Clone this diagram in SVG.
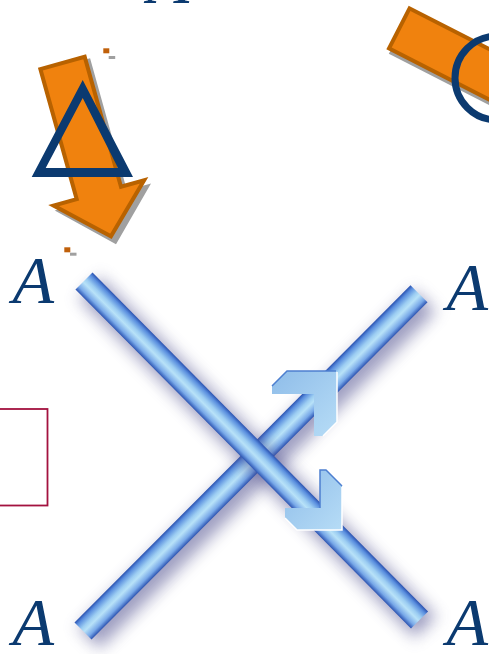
<svg xmlns="http://www.w3.org/2000/svg" width="489" height="654" viewBox="0 0 489 654">
<defs>
<style>
.lbl{font-family:"Liberation Serif","DejaVu Serif",serif;font-style:italic;font-size:68px;fill:#0b3a70}
.org{fill:#f0820e;stroke:#b86200;stroke-width:4;stroke-linejoin:miter}
.shd{fill:#a0a0a0}
.pipe{fill:url(#pipeGrad)}
.halo{fill:#50508e;opacity:0.55;filter:url(#blur)}
.chev{fill:url(#chevGrad)}
</style>
<linearGradient id="pipeGrad" x1="0" y1="0" x2="0" y2="1">
<stop offset="0" stop-color="#2a52b0"/>
<stop offset="0.14" stop-color="#5a8ede"/>
<stop offset="0.38" stop-color="#9ccdf2"/>
<stop offset="0.55" stop-color="#b8e2f8"/>
<stop offset="0.82" stop-color="#78a8e8"/>
<stop offset="1" stop-color="#2c54b2"/>
</linearGradient>
<linearGradient id="chevGrad" x1="0" y1="0" x2="1" y2="1">
<stop offset="0" stop-color="#8fbde9"/>
<stop offset="1" stop-color="#b6dcf6"/>
</linearGradient>
<filter id="blur" x="-30%" y="-60%" width="160%" height="220%">
<feGaussianBlur stdDeviation="8"/>
</filter>
</defs>

<g id="label-top"><text class="lbl" x="147.5" y="3">A</text></g>

<g id="arrow-down">
<g transform="translate(66,65) rotate(-15.6)">
<polygon class="shd" points="-25,0 25,0 25,137 50,137 0,186 -50,137 -25,137"/>
</g>
<g transform="translate(62,61) rotate(-15.6)">
<polygon class="org" points="-23,2 23,2 23,137 47,137 0,182 -47,137 -23,137"/>
</g>
</g>

<g id="triangle">
<path fill="#0b3a70" fill-rule="evenodd" d="M82.7,80 L31.7,177 L133,177 Z M82.7,98 L45.7,168 L118,168 Z"/>
</g>

<g id="marks">
<rect x="103.3" y="48.3" width="6" height="5" fill="#c0600a"/>
<rect x="108.7" y="56" width="6.5" height="3" fill="#a0a0a0"/>
<rect x="64.3" y="247.3" width="6" height="5" fill="#c0600a"/>
<rect x="70" y="252.7" width="6.5" height="3" fill="#a0a0a0"/>
</g>

<g id="bar-right">
<g transform="translate(400,32) rotate(27.1)">
<rect class="shd" x="0" y="-24.5" width="200" height="49"/>
</g>
<g transform="translate(397.5,27.5) rotate(27.1)">
<rect class="org" x="2" y="-22.5" width="200" height="45"/>
</g>
</g>

<g id="circle">
<circle cx="497" cy="78" r="42" fill="none" stroke="#0b3a70" stroke-width="7"/>
</g>

<g id="box">
<rect x="-10" y="409" width="57.5" height="96.5" fill="none" stroke="#a3123f" stroke-width="1.8"/>
</g>

<g id="label-ul"><text class="lbl" x="12.5" y="303">A</text></g>
<g id="label-ur"><text class="lbl" x="446.5" y="310">A</text></g>
<g id="label-ll"><text class="lbl" x="12.5" y="645">A</text></g>
<g id="label-lr"><text class="lbl" x="446.5" y="645">A</text></g>

<g id="connectors">
<g id="pipe-sw-ne">
<g transform="translate(89,638) rotate(-45.1)"><rect class="halo" x="0" y="-15" width="476" height="30"/></g>
<g transform="translate(83,631) rotate(-45.1)"><rect class="pipe" x="0" y="-12" width="476" height="24"/></g>
<polygon class="chev" points="337,371 337,422 323,436 314,436 314,394 272,394 272,386 287,371"/>
<polyline points="337,372 337,422 323,436" fill="none" stroke="#ffffff" stroke-width="1.5"/>
<polyline points="272,386 287,371 336,371" fill="none" stroke="#4d7fd0" stroke-width="1.5"/>
</g>
<g id="pipe-nw-se">
<g transform="translate(90,288) rotate(45.3)"><rect class="halo" x="0" y="-15" width="477" height="30"/></g>
<g transform="translate(84,281) rotate(45.3)"><rect class="pipe" x="0" y="-12" width="477" height="24"/></g>
<polygon class="chev" points="342,530 297,530 285,518 285,508 320,508 320,470 326,470 342,486"/>
<polyline points="342,487 342,530 297,530 285,518" fill="none" stroke="#ffffff" stroke-width="1.5"/>
<polyline points="320,508 320,470 326,470 342,486" fill="none" stroke="#4d7fd0" stroke-width="1.5"/>
</g>
</g>
</svg>
